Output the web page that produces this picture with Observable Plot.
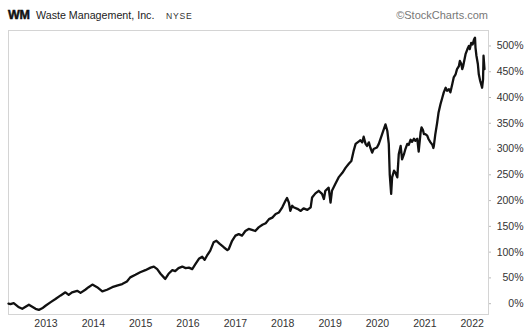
<!DOCTYPE html>
<html>
<head>
<meta charset="utf-8">
<script src="https://cdn.jsdelivr.net/npm/d3@7"></script>
<script src="https://cdn.jsdelivr.net/npm/@observablehq/plot@0.6"></script>
<style>
  html, body { margin: 0; padding: 0; background: #fff; }
  body { width: 525px; height: 333px; overflow: hidden; font-family: "Liberation Sans", Arial, sans-serif; }
  #hdr { display: block; }
  #chart svg { display: block; }
</style>
</head>
<body>
<svg id="hdr" width="525" height="28" xmlns="http://www.w3.org/2000/svg">
  <text x="8" y="19" font-family="Liberation Sans, Arial, sans-serif" font-size="12.5" font-weight="900" fill="#111" stroke="#111" stroke-width="0.5" letter-spacing="-0.3">WM</text>
  <text x="36" y="19" font-family="Liberation Sans, Arial, sans-serif" font-size="10.7" fill="#222">Waste Management, Inc.</text>
  <text x="166" y="19" font-family="Liberation Sans, Arial, sans-serif" font-size="8.6" fill="#333" letter-spacing="0.8">NYSE</text>
  <text x="488" y="19" text-anchor="end" font-family="Liberation Sans, Arial, sans-serif" font-size="11" fill="#777">©StockCharts.com</text>
</svg>
<div id="chart"></div>
<script>
// Decimal year of each reading
const timeYears = [
  2012.21, 2012.25, 2012.32, 2012.43, 2012.50, 2012.57, 2012.64, 2012.71, 2012.78, 2012.85,
  2012.92, 2012.99, 2013.10, 2013.20, 2013.31, 2013.41, 2013.48, 2013.55, 2013.66, 2013.73,
  2013.83, 2013.90, 2013.98, 2014.08, 2014.19, 2014.29, 2014.40, 2014.50, 2014.61, 2014.71,
  2014.78, 2014.89, 2014.99, 2015.10, 2015.21, 2015.28, 2015.35, 2015.42, 2015.49, 2015.52,
  2015.59, 2015.67, 2015.73, 2015.80, 2015.88, 2015.95, 2016.02, 2016.09, 2016.16, 2016.23,
  2016.30, 2016.35, 2016.40, 2016.47, 2016.54, 2016.60, 2016.67, 2016.76, 2016.83, 2016.86,
  2016.93, 2017.00, 2017.07, 2017.14, 2017.21, 2017.28, 2017.35, 2017.42, 2017.49, 2017.57,
  2017.64, 2017.71, 2017.78, 2017.85, 2017.92, 2017.99, 2018.06, 2018.09, 2018.13, 2018.16,
  2018.20, 2018.23, 2018.31, 2018.38, 2018.44, 2018.52, 2018.59, 2018.62, 2018.69, 2018.76,
  2018.83, 2018.87, 2018.90, 2018.97, 2019.01, 2019.04, 2019.11, 2019.18, 2019.26, 2019.33,
  2019.40, 2019.45, 2019.50, 2019.54, 2019.61, 2019.64, 2019.68, 2019.71, 2019.75, 2019.78,
  2019.82, 2019.85, 2019.89, 2019.92, 2019.99, 2020.03, 2020.10, 2020.17, 2020.21, 2020.24,
  2020.26, 2020.29, 2020.31, 2020.35, 2020.38, 2020.42, 2020.45, 2020.49, 2020.52, 2020.56,
  2020.59, 2020.63, 2020.66, 2020.70, 2020.73, 2020.77, 2020.80, 2020.84, 2020.87, 2020.91,
  2020.93, 2020.96, 2020.98, 2021.01, 2021.05, 2021.08, 2021.12, 2021.16, 2021.18, 2021.19,
  2021.22, 2021.26, 2021.29, 2021.33, 2021.37, 2021.40, 2021.44, 2021.47, 2021.51, 2021.54,
  2021.58, 2021.61, 2021.65, 2021.68, 2021.72, 2021.74, 2021.77, 2021.79, 2021.81, 2021.86,
  2021.90, 2021.93, 2021.95, 2021.98, 2022.01, 2022.04, 2022.06, 2022.07, 2022.09, 2022.12,
  2022.14, 2022.17, 2022.21, 2022.23, 2022.24, 2022.26
];
// Percent change since start
const pctChange = [
  0, -1, 1, -7, -10, -6, -2, -6, -10, -12,
  -9, -4, 3, 9, 16, 22, 17, 22, 25, 21,
  27, 32, 37, 32, 24, 27, 32, 35, 38, 43,
  51, 56, 61, 65, 70, 72, 67, 58, 51, 48,
  58, 65, 63, 69, 72, 69, 70, 67, 77, 87,
  91, 85, 93, 103, 119, 122, 116, 109, 104, 106,
  122, 132, 135, 132, 141, 145, 143, 141, 148, 153,
  156, 164, 167, 174, 177, 187, 200, 205, 196, 180,
  190, 187, 184, 180, 185, 182, 187, 206, 214, 219,
  213, 203, 219, 225, 196, 219, 232, 245, 254, 264,
  272, 277, 297, 310, 315, 317, 313, 324, 310, 306,
  313, 303, 293, 300, 303, 310, 329, 348, 335, 310,
  251, 213, 245, 258, 254, 245, 290, 306, 280, 290,
  300, 310, 308, 318, 314, 320, 316, 320, 295, 332,
  342, 337, 329, 329, 326, 319, 313, 308, 302, 306,
  328, 351, 371, 387, 400, 410, 419, 413, 416, 410,
  426, 439, 445, 455, 461, 471, 465, 455, 461, 484,
  494, 500, 494, 506, 503, 513, 516, 497, 481, 465,
  445, 432, 419, 435, 481, 455
];
const yearTicks = [2013, 2014, 2015, 2016, 2017, 2018, 2019, 2020, 2021, 2022];
const pctTicks = [0, 50, 100, 150, 200, 250, 300, 350, 400, 450, 500];
const xStartYear = 2012.21, xEndYear = 2022.345;
const yMin = -21, yMax = 530;

const toDate = t => {
  const y = Math.floor(t);
  const s = Date.UTC(y, 0, 1), e = Date.UTC(y + 1, 0, 1);
  return new Date(s + (t - y) * (e - s));
};
const data = timeYears.map((t, i) => ({date: toDate(t), pct: pctChange[i]}));

const chart = Plot.plot({
  width: 525,
  height: 305,
  marginTop: 2,
  marginBottom: 19,
  marginLeft: 8,
  marginRight: 37,
  style: {fontFamily: "Liberation Sans, Arial, sans-serif", fontSize: "10.5px", color: "#333", background: "#fff", overflow: "visible"},
  x: {type: "utc", domain: [toDate(xStartYear), toDate(xEndYear)]},
  y: {domain: [yMin, yMax]},
  marks: [
    Plot.frame({stroke: "#d4d4d4"}),
    Plot.axisX(yearTicks.map(y => new Date(Date.UTC(y, 0, 1))), {tickSize: 0, tickPadding: 5, tickFormat: d3.utcFormat("%Y"), label: null}),
    Plot.axisY(pctTicks, {anchor: "right", tickSize: 2, stroke: "#bbb", tickPadding: 33, textAnchor: "end", tickFormat: d => d + "%", label: null}),
    Plot.lineY(data, {x: "date", y: "pct", stroke: "#111", strokeWidth: 2.3, strokeLinejoin: "round"})
  ]
});
document.getElementById("chart").appendChild(chart);
</script>
</body>
</html>
